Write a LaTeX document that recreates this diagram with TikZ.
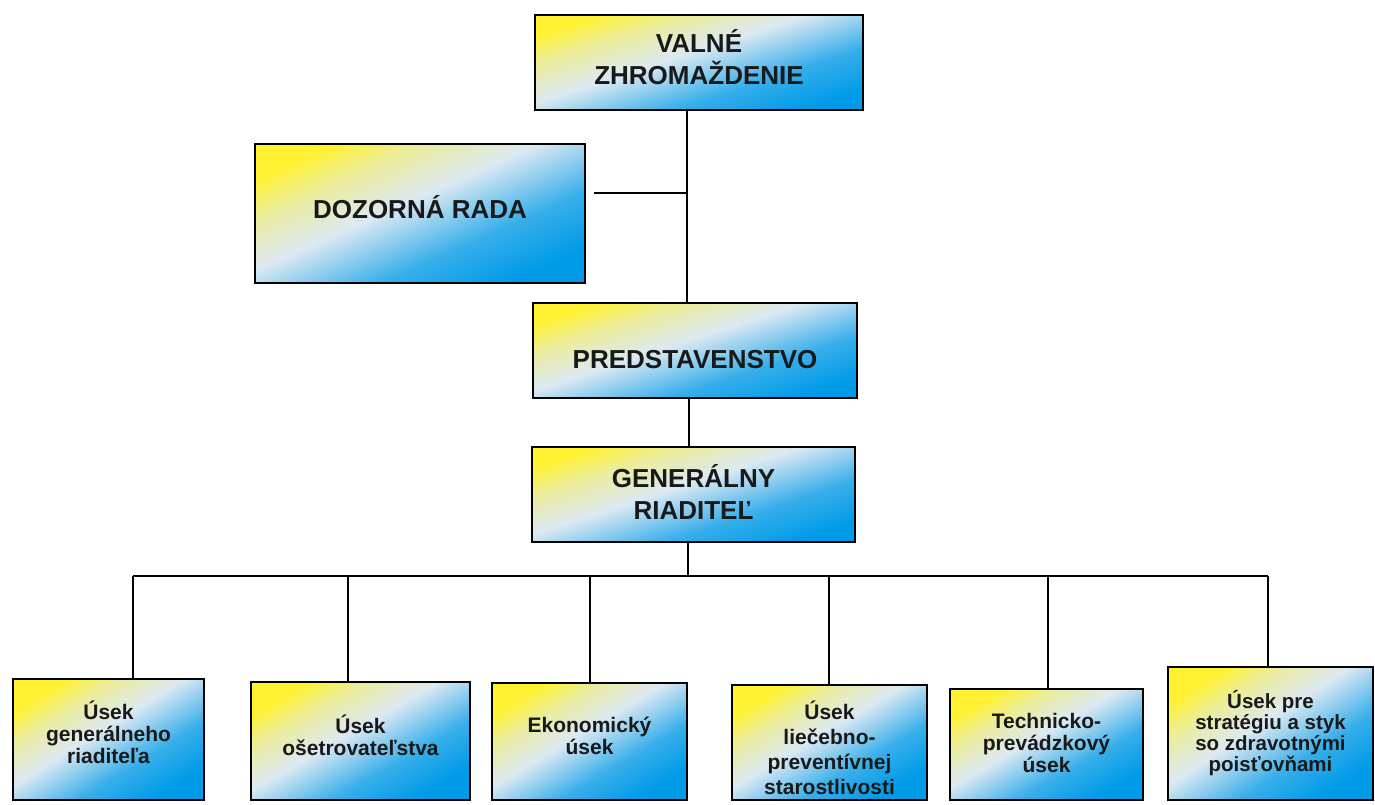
\documentclass[tikz,border=0pt]{standalone}
\usepackage{fontspec}
\setmainfont{Liberation Sans}
\definecolor{ylw}{RGB}{255,242,50}
\definecolor{mid}{RGB}{220,233,242}
\definecolor{blu}{RGB}{0,155,232}
\pgfdeclareverticalshading{ybshade}{100bp}{color(0bp)=(blu); color(25bp)=(blu); color(38bp)=(blu!75!mid); color(54bp)=(mid); color(66bp)=(ylw!45!mid); color(75bp)=(ylw); color(100bp)=(ylw)}
\begin{document}
\begin{tikzpicture}[x=1pt,y=-1pt,
  box/.style={draw=black, line width=2.6pt, shade, shading=ybshade, shading angle=#1, inner sep=0pt},
  box/.default=30,
  bigtxt/.style={font=\fontsize{26}{32}\selectfont\bfseries, align=center, inner sep=0pt, text=black!90},
  smalltxt/.style={font=\fontsize{21}{22}\selectfont\bfseries, align=center, inner sep=0pt, text=black!90},
  conn/.style={draw=black, line width=1.8pt}]
\useasboundingbox (0,0) rectangle (1375,804);
\fill[white] (0,0) rectangle (1375,804);
% top boxes
\node[box=18, minimum width=328, minimum height=95] (vz) at (699,62.5) {};
\node[bigtxt] (vzt) at ([yshift=5pt]vz.center) {VALNÉ\\ZHROMAŽDENIE};
\node[box=24, minimum width=330, minimum height=139] (dr) at (420,213.5) {};
\node[bigtxt] (drt) at ([yshift=6pt]dr.center) {DOZORNÁ RADA};
\node[box=18, minimum width=324, minimum height=95] (pr) at (695,350.5) {};
\node[bigtxt] (prt) at ([yshift=-9pt]pr.center) {PREDSTAVENSTVO};
\node[box=18, minimum width=323, minimum height=95] (gr) at (693.5,494.5) {};
\node[bigtxt] (grt) at ([yshift=3pt]gr.center) {GENERÁLNY\\RIADITEĽ};
% bottom boxes
\node[box=32, minimum width=191, minimum height=121] (b1) at (108.5,739.5) {};
\node[smalltxt] (b1t) at ([yshift=7pt]b1.center) {Úsek\\generálneho\\riaditeľa};
\node[box=30, minimum width=219, minimum height=118] (b2) at (360.5,741) {};
\node[smalltxt] (b2t) at ([yshift=6pt]b2.center) {Úsek\\ošetrovateľstva};
\node[box=31, minimum width=195, minimum height=117] (b3) at (589.5,741.5) {};
\node[smalltxt] (b3t) at ([yshift=6pt]b3.center) {Ekonomický\\úsek};
\node[box=31, minimum width=195, minimum height=115] (b4) at (829.5,742.5) {};
\node[smalltxt, font=\fontsize{21}{25}\selectfont\bfseries] (b4t) at ([yshift=-5pt]b4.center) {Úsek\\liečebno-\\preventívnej\\starostlivosti};
\node[box=30, minimum width=193, minimum height=111] (b5) at (1046.5,744.5) {};
\node[smalltxt] (b5t) at ([yshift=2pt]b5.center) {Technicko-\\prevádzkový\\úsek};
\node[box=33, minimum width=205, minimum height=133] (b6) at (1270.5,733.5) {};
\node[smalltxt, font=\fontsize{20.5}{21}\selectfont\bfseries] (b6t) at (b6.center) {Úsek pre\\stratégiu a styk\\so zdravotnými\\poisťovňami};
% connector helpers
\coordinate (sp) at (687,0);
\coordinate (drj) at (687,193);
\coordinate (pg) at (689,0);
\coordinate (gb) at (688,0);
\coordinate (busL) at (133,576);
\coordinate (busR) at (1268,576);
\coordinate (d2) at (348,576);
\coordinate (d3) at (590,576);
\coordinate (d4) at (829,576);
\coordinate (d5) at (1048,576);
% connectors
\draw[conn] (vz.south -| sp) -- (pr.north -| sp);
\draw[conn] ([xshift=8pt]drj -| dr.east) -- (drj);
\draw[conn] (pr.south -| pg) -- (gr.north -| pg);
\draw[conn] (gr.south -| gb) -- (busL -| gb);
\draw[conn] (busL) -- (busR);
\draw[conn] (busL) -- (b1.north -| busL);
\draw[conn] (d2) -- (b2.north -| d2);
\draw[conn] (d3) -- (b3.north -| d3);
\draw[conn] (d4) -- (b4.north -| d4);
\draw[conn] (d5) -- (b5.north -| d5);
\draw[conn] (busR) -- (b6.north -| busR);
\end{tikzpicture}
\end{document}
